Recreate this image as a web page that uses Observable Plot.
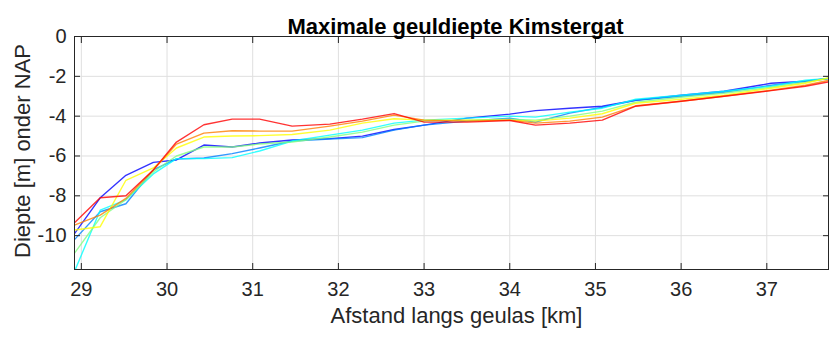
<!DOCTYPE html>
<html>
<head>
<meta charset="utf-8">
<script src="https://cdn.jsdelivr.net/npm/d3@7"></script>
<script src="https://cdn.jsdelivr.net/npm/@observablehq/plot@0.6"></script>
<style>
  html, body { margin: 0; padding: 0; background: #fff; }
  #chart { width: 830px; height: 337px; }
</style>
</head>
<body>
<div id="chart"></div>
<script>
const chartTitle = "Maximale geuldiepte Kimstergat";
const xLabel = "Afstand langs geulas [km]";
const yLabel = "Diepte [m] onder NAP";

const xTicks = [29, 30, 31, 32, 33, 34, 35, 36, 37];
const yTicks = [0, -2, -4, -6, -8, -10];

// distance along channel axis [km]
const afstand = [28.92, 29.22, 29.52, 29.84, 30.11, 30.43, 30.76, 31.08, 31.46, 31.9, 32.28, 32.65, 33.0, 33.5, 34.0, 34.3, 34.7, 35.08, 35.47, 36.0, 36.5, 37.05, 37.45, 37.72];

// maximum depth per survey [m NAP]
const s1 = [-9.9, -8.1, -6.97, -6.32, -6.2, -5.45, -5.55, -5.35, -5.2, -5.13, -5.0, -4.67, -4.45, -4.1, -3.9, -3.72, -3.6, -3.5, -3.2, -2.95, -2.75, -2.35, -2.25, -2.1];
const s2 = [-10.2, -8.8, -8.4, -6.7, -6.15, -6.1, -5.88, -5.6, -5.25, -5.15, -5.08, -4.7, -4.45, -4.25, -4.1, -4.3, -3.85, -3.55, -3.2, -3.0, -2.8, -2.45, -2.25, -2.12];
const s3 = [-11.8, -8.72, -8.2, -6.9, -6.13, -6.13, -6.08, -5.75, -5.25, -4.95, -4.7, -4.35, -4.2, -4.1, -4.0, -4.05, -3.8, -3.6, -3.15, -2.95, -2.75, -2.5, -2.2, -2.1];
const s4 = [-10.88, -9.1, -8.2, -6.8, -6.0, -5.55, -5.55, -5.4, -5.3, -5.05, -4.8, -4.45, -4.25, -4.2, -4.15, -4.2, -4.0, -3.75, -3.3, -3.05, -2.85, -2.55, -2.3, -2.1];
const s5 = [-9.72, -9.55, -7.22, -6.6, -5.6, -5.05, -5.0, -4.98, -4.92, -4.7, -4.35, -4.13, -4.2, -4.2, -4.2, -4.25, -4.1, -3.88, -3.35, -3.15, -2.95, -2.6, -2.35, -2.08];
const s6 = [-9.47, -8.97, -8.13, -6.7, -5.4, -4.85, -4.73, -4.75, -4.75, -4.5, -4.25, -3.95, -4.2, -4.25, -4.2, -4.35, -4.25, -4.05, -3.48, -3.25, -3.0, -2.7, -2.45, -2.2];
const s7 = [-9.35, -8.1, -8.0, -6.7, -5.3, -4.43, -4.15, -4.15, -4.5, -4.4, -4.15, -3.87, -4.3, -4.3, -4.22, -4.45, -4.35, -4.2, -3.5, -3.25, -3.0, -2.72, -2.5, -2.28];

const seriesNames = ["s1", "s2", "s3", "s4", "s5", "s6", "s7"];
const seriesValues = [s1, s2, s3, s4, s5, s6, s7];
const seriesColors = ["#0000ff", "#0080ff", "#00ffff", "#80ff80", "#ffff00", "#ff8000", "#ff0000"];

const rows = [];
seriesNames.forEach((name, i) => {
  seriesValues[i].forEach((v, j) => rows.push({serie: name, x: afstand[j], y: v}));
});

const font = "'Liberation Sans', Arial, Helvetica, sans-serif";
const textColor = "#262626";

const plot = Plot.plot({
  width: 830,
  height: 337,
  marginLeft: 74,
  marginRight: 2,
  marginTop: 36,
  marginBottom: 68,
  style: {fontFamily: font, fontSize: "20px", color: textColor, background: "#fff"},
  x: {domain: [28.92, 37.72], ticks: xTicks},
  y: {domain: [-11.7, 0], ticks: yTicks},
  color: {domain: seriesNames, range: seriesColors},
  marks: [
    Plot.gridX(xTicks, {stroke: "#dfdfdf", strokeOpacity: 1, strokeWidth: 1}),
    Plot.gridY(yTicks, {stroke: "#dfdfdf", strokeOpacity: 1, strokeWidth: 1}),
    Plot.line(rows, {x: "x", y: "y", z: "serie", stroke: "serie", strokeWidth: 1.4, strokeOpacity: 0.8, clip: true}),
    Plot.frame({stroke: textColor, strokeWidth: 1}),
    Plot.axisX(xTicks, {anchor: "bottom", tickSize: 0, tickPadding: 12, label: null, fontSize: 20, fill: textColor, tickFormat: d => String(d)}),
    Plot.axisX(xTicks, {anchor: "bottom", tickSize: -6, text: null, label: null, stroke: textColor}),
    Plot.axisX(xTicks, {anchor: "top", tickSize: -6, text: null, label: null, stroke: textColor}),
    Plot.axisY(yTicks, {anchor: "left", tickSize: 0, tickPadding: 8, label: null, fontSize: 20, fill: textColor, tickFormat: d => String(d)}),
    Plot.axisY(yTicks, {anchor: "left", tickSize: -6, text: null, label: null, stroke: textColor}),
    Plot.axisY(yTicks, {anchor: "right", tickSize: -6, text: null, label: null, stroke: textColor}),
    Plot.text([xLabel], {frameAnchor: "bottom", dy: 53, dx: 5, fontSize: 22, fill: textColor}),
    Plot.text([yLabel], {frameAnchor: "left", textAnchor: "middle", dx: -52, dy: -2, rotate: -90, fontSize: 22, fill: textColor}),
    Plot.text([chartTitle], {frameAnchor: "top", dy: -18, dx: 4, fontSize: 22, fontWeight: "bold", fill: "#000"})
  ]
});
document.getElementById("chart").appendChild(plot);
</script>
</body>
</html>
